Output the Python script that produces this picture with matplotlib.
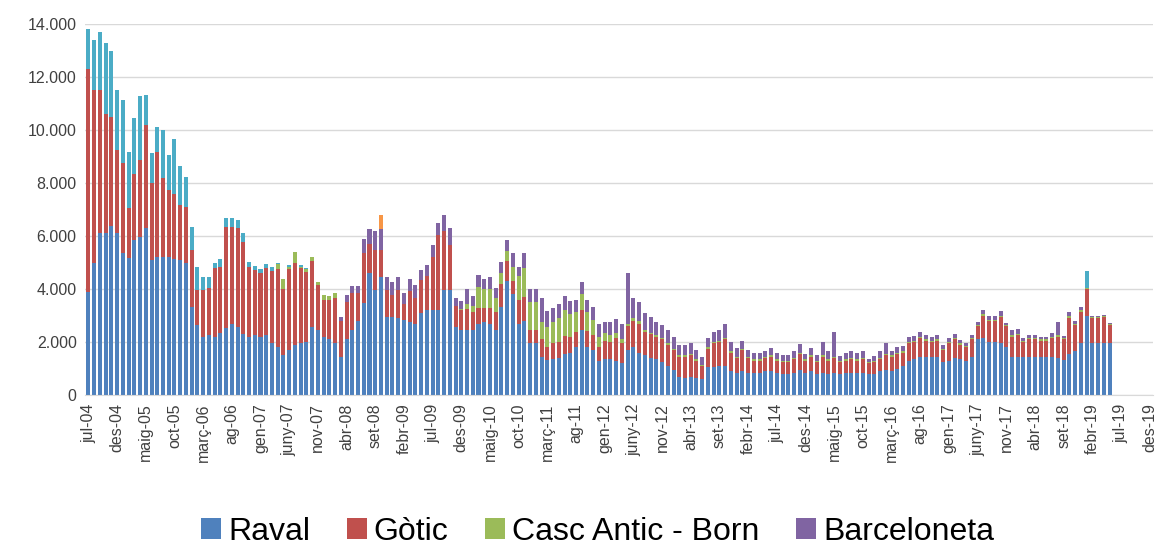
import numpy as np
import matplotlib
matplotlib.use("Agg")
import matplotlib.pyplot as plt
from matplotlib.ticker import FuncFormatter

# Mesos en català (etiquetes de l'eix X), jul-04 ... des-19
mesos = ["gen", "febr", "març", "abr", "maig", "juny", "jul", "ag", "set", "oct", "nov", "des"]
categories = [f"{mesos[(6 + i) % 12]}-{4 + (6 + i) // 12:02d}" for i in range(186)]

# Valors mensuals per barri (jul-04 ... maig-19)
raval = [
    3900, 5000, 6100, 6100, 6400, 6100, 5350, 5170, 5850, 5970,
    6300, 5100, 5200, 5200, 5200, 5150, 5100, 4980, 3330, 2640,
    2200, 2260, 2200, 2340, 2550, 2700, 2580, 2300, 2200, 2260,
    2200, 2250, 1960, 1820, 1510, 1700, 1900, 1950, 2000, 2580,
    2450, 2200, 2100, 1950, 1450, 2100, 2450, 2800, 3460, 4600,
    3960, 4470, 2960, 2960, 2900, 2830, 2770, 2700, 3080, 3200,
    3200, 3200, 3960, 3960, 2580, 2450, 2450, 2450, 2700, 2770,
    2700, 2450, 3330, 4300, 3800, 2700, 2800, 1950, 1950, 1450,
    1320, 1350, 1400, 1570, 1600, 1830, 2450, 1830, 1700, 1300,
    1350, 1350, 1300, 1200, 1700, 1800, 1600, 1500, 1400, 1350,
    1250, 1100, 950, 700, 650, 700, 650, 600, 1050, 1050,
    1100, 1100, 900, 850, 900, 850, 850, 850, 900, 900,
    850, 800, 800, 850, 950, 850, 900, 800, 850, 800,
    850, 800, 850, 850, 850, 850, 800, 800, 900, 950,
    900, 1000, 1100, 1300, 1350, 1450, 1450, 1450, 1450, 1250,
    1300, 1400, 1350, 1300, 1450, 2100, 2150, 2000, 2000, 1950,
    1800, 1450, 1450, 1450, 1450, 1450, 1450, 1450, 1450, 1400,
    1320, 1570, 1650, 1950, 3000, 1950, 1950, 1950, 1950,
]
gotic = [
    8400, 6500, 5400, 4500, 4100, 3150, 3400, 1900, 2500, 2900,
    3900, 2900, 3980, 3000, 2540, 2450, 2080, 2120, 2140, 1320,
    1760, 1780, 2590, 2500, 3800, 3650, 3720, 3490, 2650, 2450,
    2400, 2550, 2740, 2920, 2510, 3040, 3100, 2850, 2650, 2470,
    1700, 1400, 1500, 1700, 1330, 1400, 1400, 1050, 1900, 1100,
    1500, 1000, 1000, 800, 1050, 600, 1150, 950, 1250, 1300,
    2020, 2840, 2240, 1700, 770, 750, 800, 700, 570, 500,
    600, 700, 880, 750, 500, 900, 900, 500, 500, 650,
    500, 600, 600, 650, 600, 550, 750, 600, 550, 500,
    700, 650, 850, 750, 900, 1000, 1100, 900, 900, 850,
    850, 800, 750, 750, 800, 800, 650, 500, 700, 900,
    900, 1000, 700, 550, 800, 550, 450, 450, 500, 550,
    450, 450, 450, 500, 600, 450, 550, 450, 600, 500,
    550, 450, 450, 500, 450, 500, 400, 450, 450, 550,
    550, 550, 500, 650, 650, 700, 600, 550, 600, 450,
    650, 700, 550, 500, 650, 500, 850, 800, 800, 1000,
    800, 750, 800, 550, 650, 650, 600, 600, 700, 800,
    800, 1350, 1000, 1200, 1000, 950, 950, 1000, 700,
]
born = [
    0, 0, 0, 0, 0, 0, 0, 0, 0, 0,
    0, 0, 0, 0, 0, 0, 0, 0, 0, 0,
    0, 0, 0, 0, 0, 0, 0, 0, 0, 0,
    0, 0, 0, 200, 380, 100, 400, 50, 100, 150,
    130, 170, 150, 200, 0, 0, 0, 0, 0, 0,
    0, 0, 0, 0, 0, 0, 0, 0, 0, 0,
    0, 0, 0, 0, 0, 50, 200, 200, 820, 750,
    700, 500, 380, 380, 550, 880, 1100, 1070, 1070, 650,
    750, 800, 900, 1000, 850, 750, 630, 700, 600, 400,
    300, 250, 200, 150, 100, 100, 100, 50, 50, 50,
    50, 50, 50, 50, 50, 50, 50, 50, 50, 50,
    50, 50, 50, 50, 50, 50, 50, 50, 50, 50,
    50, 50, 50, 50, 50, 50, 50, 50, 50, 50,
    50, 50, 50, 50, 50, 50, 50, 50, 50, 50,
    50, 50, 50, 50, 50, 50, 50, 50, 50, 50,
    50, 50, 50, 50, 50, 50, 50, 50, 50, 50,
    50, 50, 50, 50, 50, 50, 50, 50, 50, 50,
    50, 50, 50, 50, 50, 30, 30, 30, 30,
]
barceloneta = [
    0, 0, 0, 0, 0, 0, 0, 0, 0, 0,
    0, 0, 0, 0, 0, 0, 0, 0, 0, 0,
    0, 0, 0, 0, 0, 0, 0, 0, 0, 0,
    0, 0, 0, 0, 0, 0, 0, 0, 0, 0,
    0, 0, 0, 0, 180, 270, 250, 250, 540, 580,
    740, 800, 510, 520, 520, 410, 480, 500, 390, 400,
    440, 440, 590, 630, 300, 320, 540, 390, 440, 380,
    470, 380, 440, 420, 500, 350, 580, 470, 470, 900,
    600, 520, 530, 520, 500, 450, 450, 470, 480, 500,
    420, 520, 540, 600, 1890, 750, 720, 630, 610, 520,
    490, 500, 450, 390, 390, 400, 350, 300, 340, 390,
    400, 550, 360, 310, 300, 270, 250, 250, 220, 290,
    250, 230, 230, 260, 320, 220, 290, 230, 490, 310,
    940, 170, 250, 270, 250, 270, 130, 170, 260, 420,
    160, 220, 220, 200, 180, 190, 160, 150, 160, 140,
    140, 140, 130, 120, 110, 120, 180, 130, 130, 170,
    80, 200, 180, 90, 110, 110, 100, 100, 130, 520,
    60, 160, 90, 130, 0, 50, 50, 40, 50,
]
# sèries sense entrada a la llegenda
altres = [
    1500, 1900, 2200, 2700, 2500, 2250, 2380, 2100, 2100, 2400,
    1130, 1130, 950, 1800, 1320, 2050, 1460, 1140, 870, 870,
    510, 430, 200, 290, 330, 350, 300, 340, 180, 160,
    140, 130, 130, 30, 0, 60, 0, 50, 50, 0,
    0, 0, 0, 0, 0, 0, 0, 0, 0, 0,
    0, 0, 0, 0, 0, 0, 0, 0, 0, 0,
    0, 0, 0, 0, 0, 0, 0, 0, 0, 0,
    0, 0, 0, 0, 0, 0, 0, 0, 0, 0,
    0, 0, 0, 0, 0, 0, 0, 0, 0, 0,
    0, 0, 0, 0, 0, 0, 0, 0, 0, 0,
    0, 0, 0, 0, 0, 0, 0, 0, 0, 0,
    0, 0, 0, 0, 0, 0, 0, 0, 0, 0,
    0, 0, 0, 0, 0, 0, 0, 0, 0, 0,
    0, 0, 0, 0, 0, 0, 0, 0, 0, 0,
    0, 0, 0, 0, 0, 0, 0, 0, 0, 0,
    0, 0, 0, 0, 0, 0, 0, 0, 0, 0,
    0, 0, 0, 0, 0, 0, 0, 0, 0, 0,
    0, 0, 0, 0, 620, 0, 0, 0, 0,
]
altres2 = [0] * 51 + [530] + [0] * 127

series = [
    ("Raval", raval, "#4F81BD"),
    ("Gòtic", gotic, "#C0504D"),
    ("Casc Antic - Born", born, "#9BBB59"),
    ("Barceloneta", barceloneta, "#8064A2"),
    ("_altres", altres, "#4BACC6"),
    ("_altres2", altres2, "#F79646"),
]

fig = plt.figure(figsize=(11.56, 5.48), dpi=100)
ax = fig.add_axes([0.0735, 0.279, 0.924, 0.677])

x = np.arange(len(raval))
bottom = np.zeros(len(raval))
for name, vals, color in series:
    vals = np.array(vals, dtype=float)
    ax.bar(x, vals, bottom=bottom, width=0.7, color=color, label=name, linewidth=0)
    bottom += vals

ax.set_xlim(-0.6, len(categories) - 0.4)
ax.set_ylim(0, 14000)
ax.set_yticks(range(0, 14001, 2000))
ax.yaxis.set_major_formatter(FuncFormatter(lambda v, p: f"{int(v):,}".replace(",", ".")))
ax.set_xticks(range(0, len(categories), 5))
ax.set_xticklabels(categories[::5], rotation=90)

tick_font = ["Liberation Sans", "DejaVu Sans"]
for lab in ax.get_xticklabels() + ax.get_yticklabels():
    lab.set_family(tick_font)
    lab.set_fontsize(11.5)
    lab.set_color("#404040")

ax.grid(axis="y", color="#D9D9D9", linewidth=1)
ax.set_axisbelow(True)
for s in ["top", "right", "left"]:
    ax.spines[s].set_visible(False)
ax.spines["bottom"].set_color("#D9D9D9")
ax.tick_params(axis="both", length=0, pad=6)

fig.legend(loc="center", bbox_to_anchor=(0.517, 0.03), ncol=4, frameon=False,
           prop={"family": tick_font, "size": 23}, handlelength=0.62, handleheight=0.62,
           handletextpad=0.22, columnspacing=1.15)

fig.savefig("out.png", dpi=100)
